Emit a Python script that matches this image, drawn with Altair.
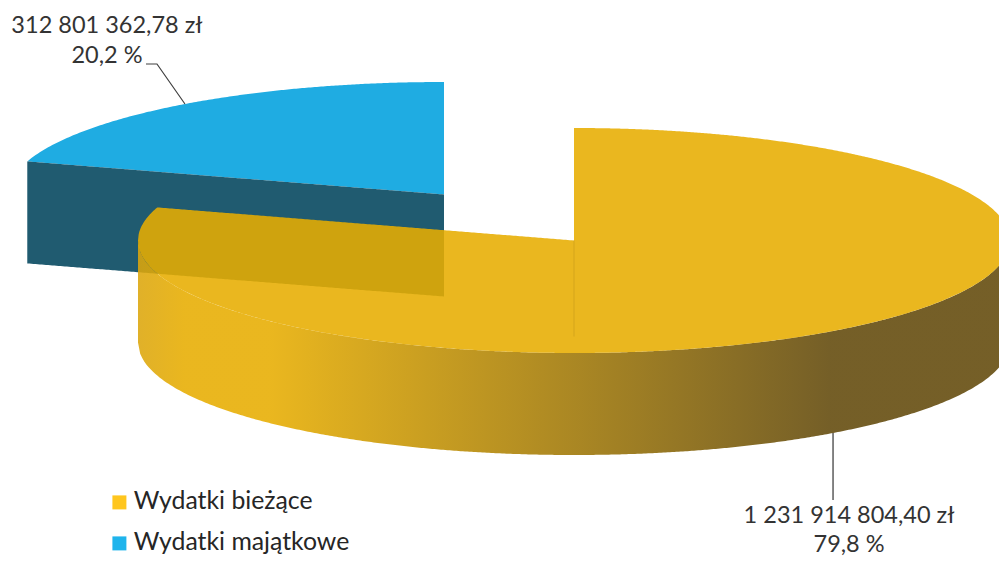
import math
import altair as alt
import pandas as pd

categories = ["Wydatki bieżące", "Wydatki majątkowe"]
values = [1231914804.40, 312801362.78]
amount_labels = ["1 231 914 804,40 zł", "312 801 362,78 zł"]
percent_labels = ["79,8 %", "20,2 %"]
legend_colors = ["#FFC61E", "#1FB4EC"]

FONT = "Lato"
RX, RY, DEPTH = 436.0, 112.5, 102.0
CY_CX = {"y": (574.0, 240.5), "b": (444.0, 194.5)}
total = sum(values)
split = values[0] / total * 2 * math.pi   # clockwise from 12 o'clock
PAGE_W, PAGE_H = 991, 549


def ell(c, a):
    cx, cy = CY_CX[c]
    return cx + RX * math.sin(a), cy - RY * math.cos(a)


def upper(c, x):
    cx, cy = CY_CX[c]
    return cy - RY * math.sqrt(max(0.0, 1 - ((x - cx) / RX) ** 2))


def lower(c, x):
    cx, cy = CY_CX[c]
    return cy + RY * math.sqrt(max(0.0, 1 - ((x - cx) / RX) ** 2))


def xs(a, b, n=260):
    return [a + (b - a) * i / n for i in range(n + 1)]


yc, yyc = CY_CX["y"]
bc, byc = CY_CX["b"]
yex, yey = ell("y", split)
bex, bey = ell("b", split)

# yellow top surface
rows = []
for x in xs(yc - RX, yex, 30):
    rows.append((x, upper("y", x), lower("y", x)))
for x in xs(yex, yc, 200)[1:]:
    t = (x - yex) / (yc - yex)
    rows.append((x, yey + (yyc - yey) * t, lower("y", x)))
for x in xs(yc + 0.01, yc + RX):
    rows.append((x, upper("y", x), lower("y", x)))
yellow_top = pd.DataFrame(rows, columns=["x", "y", "y2"])

# yellow outer wall
yellow_wall = pd.DataFrame(
    [(x, lower("y", x), lower("y", x) + DEPTH) for x in xs(yc - RX, yc + RX, 400)],
    columns=["x", "y", "y2"],
)

# blue top surface and its cut face
rows = []
for x in xs(bex, bc, 200):
    t = (x - bex) / (bc - bex)
    rows.append((x, upper("b", x), bey + (byc - bey) * t))
blue_top = pd.DataFrame(rows, columns=["x", "y", "y2"])
blue_face = pd.DataFrame(
    [(r[0], r[2], r[2] + DEPTH) for r in rows], columns=["x", "y", "y2"]
)

# leader lines start from each slice's mid angle
mid_y = split / 2
mid_b = split + (2 * math.pi - split) / 2
lyx, lyy = ell("y", mid_y)
lyy += DEPTH
lbx, lby = ell("b", mid_b)
leader_y = pd.DataFrame({"x": [lyx, lyx], "y": [lyy, lyy + 67], "o": [0, 1]})
leader_b = pd.DataFrame(
    {"x": [lbx, lbx - 28, lbx - 39], "y": [lby, lby - 40, lby - 40], "o": [0, 1, 2]}
)
center_edge = pd.DataFrame({"x": [yc, yc], "y": [yyc, yyc + DEPTH - 6], "o": [0, 1]})

labels = pd.DataFrame(
    {
        "x": [lyx + 16, lyx + 16, lbx - 78, lbx - 78],
        "y": [lyy + 83, lyy + 112, lby - 78, lby - 48],
        "t": [amount_labels[0], percent_labels[0], amount_labels[1], percent_labels[1]],
    }
)

X = alt.X("x:Q", scale=alt.Scale(domain=[8, 8 + PAGE_W], nice=False, zero=False), axis=None)
Y = alt.Y("y:Q", scale=alt.Scale(domain=[8 + PAGE_H, 8], nice=False, zero=False), axis=None)
Y2 = alt.Y2("y2:Q")


def area(df, fill, opacity=1.0):
    return (
        alt.Chart(df)
        .mark_area(color=fill, opacity=opacity, clip=True, line=False, interpolate="linear")
        .encode(x=X, y=Y, y2=Y2)
    )


def line(df, color, width=1.2, opacity=1.0):
    return (
        alt.Chart(df)
        .mark_line(color=color, strokeWidth=width, opacity=opacity, clip=True)
        .encode(x=X, y=Y, order="o:Q")
    )


span = 2 * RX
left = yc - RX


def off(px):
    return (px - left) / span


YA = 0.88
wall_gradient = alt.Gradient(
    gradient="linear",
    x1=0, x2=1, y1=0, y2=0,
    stops=[
        alt.GradientStop(offset=0, color="#DCA60C"),
        alt.GradientStop(offset=off(185), color="#E7AD00"),
        alt.GradientStop(offset=off(270), color="#E7AD00"),
        alt.GradientStop(offset=off(830), color="#62490A"),
        alt.GradientStop(offset=1, color="#62490A"),
    ],
)

legend_df = pd.DataFrame({"cat": categories, "x": [100, 100], "y": [100, 100]})
legend_layer = (
    alt.Chart(legend_df)
    .mark_square(opacity=0, size=196)
    .encode(
        x=X,
        y=Y,
        color=alt.Color(
            "cat:N",
            scale=alt.Scale(domain=categories, range=legend_colors),
            legend=alt.Legend(
                title=None,
                orient="none",
                legendX=99,
                legendY=482,
                symbolType="square",
                symbolSize=196,
                symbolOpacity=1,
                symbolStrokeWidth=0,
                labelFont=FONT,
                labelFontSize=24.8,
                labelColor="#262626",
                labelLimit=400,
                labelOffset=2,
                rowPadding=15,
                padding=0,
            ),
        ),
    )
)

text = (
    alt.Chart(labels)
    .mark_text(font=FONT, fontSize=23.5, color="#333333", align="center", baseline="middle")
    .encode(x=X, y=Y, text="t:N")
)

chart = (
    alt.layer(
        area(blue_top, "#1FACE2"),
        area(blue_face, "#205B70"),
        area(yellow_wall, wall_gradient, YA),
        area(yellow_top, "#E7AD00", YA),
        line(center_edge, "#D4A51C", 1.0),
        line(leader_y, "#333333"),
        line(leader_b, "#404040"),
        text,
        legend_layer,
    )
    .properties(width=PAGE_W, height=PAGE_H, padding=0, autosize=alt.AutoSizeParams(type="none"), background="white")
    .configure_view(stroke=None)
)

chart.save("out.html", embed_options={"renderer": "svg", "actions": False})
